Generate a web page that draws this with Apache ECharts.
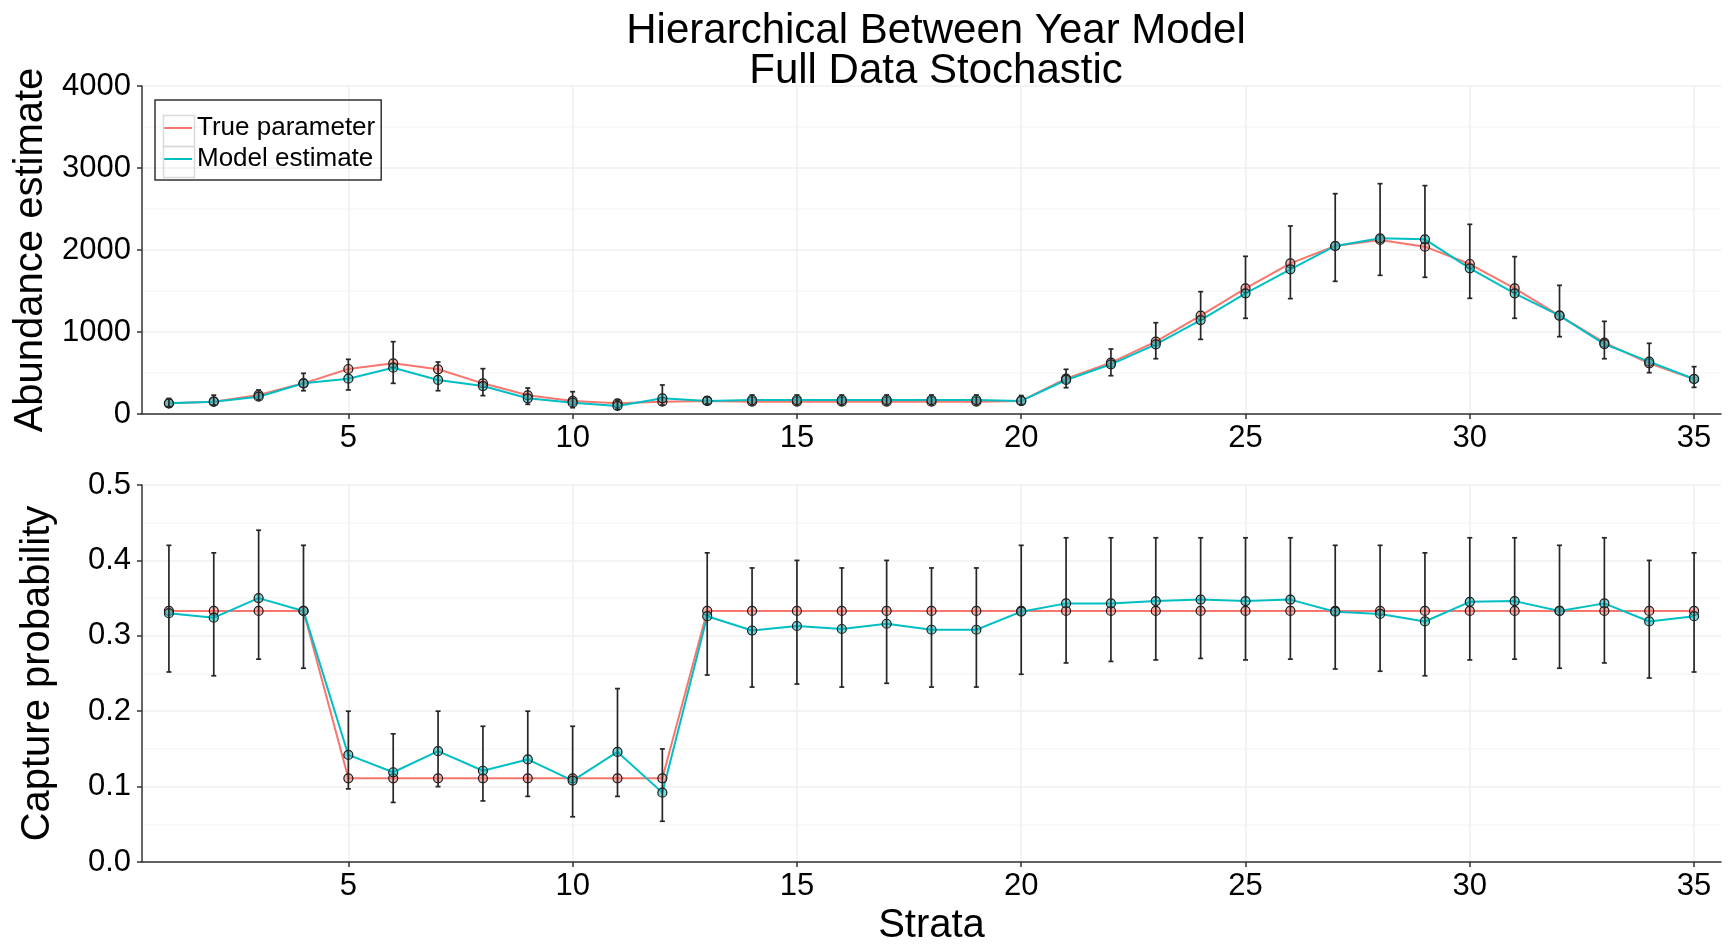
<!DOCTYPE html>
<html>
<head>
<meta charset="utf-8">
<title>Hierarchical Between Year Model</title>
<script src="https://cdn.jsdelivr.net/npm/echarts@6/dist/echarts.min.js"></script>
<style>
  html, body { margin: 0; padding: 0; background: #fff; }
  #chart { width: 1735px; height: 947px; }
</style>
</head>
<body>
<div id="chart"></div>
<script>
// strata 1..35
const strata = [1, 2, 3, 4, 5, 6, 7, 8, 9, 10, 11, 12, 13, 14, 15, 16, 17, 18,
  19, 20, 21, 22, 23, 24, 25, 26, 27, 28, 29, 30, 31, 32, 33, 34, 35];
const xTicks = [5, 10, 15, 20, 25, 30, 35];

// abundance panel
const abundTrue = [130, 150, 232, 374, 549, 618, 545, 374, 228, 159, 130, 150, 159, 150, 150, 150, 150, 150,
  150, 159, 431, 626, 882, 1199, 1533, 1837, 2049, 2122, 2041, 1829, 1533, 1199, 870, 618, 427];
const abundModel = [130, 150, 211, 374, 431, 565, 415, 341, 191, 138, 98, 191, 159, 171, 171, 171, 171, 171,
  171, 159, 415, 606, 850, 1146, 1472, 1764, 2049, 2142, 2130, 1777, 1472, 1199, 853, 638, 427];
const abundLo = [90, 110, 171, 284, 293, 374, 284, 224, 118, 77, 57, 110, 122, 110, 110, 110, 110, 110,
  110, 115, 321, 467, 674, 910, 1167, 1407, 1618, 1691, 1667, 1411, 1167, 943, 674, 504, 325];
const abundHi = [190, 230, 293, 496, 667, 882, 634, 553, 317, 272, 171, 354, 211, 232, 232, 232, 232, 232,
  232, 225, 545, 793, 1113, 1492, 1923, 2293, 2687, 2809, 2785, 2313, 1919, 1569, 1130, 862, 577];

// capture probability panel
const probTrue = [0.333, 0.333, 0.333, 0.333, 0.111, 0.111, 0.111, 0.111, 0.111, 0.111, 0.111, 0.111,
  0.333, 0.333, 0.333, 0.333, 0.333, 0.333, 0.333, 0.333, 0.333, 0.333, 0.333, 0.333, 0.333, 0.333,
  0.333, 0.333, 0.333, 0.333, 0.333, 0.333, 0.333, 0.333, 0.333];
const probModel = [0.330, 0.324, 0.350, 0.333, 0.142, 0.119, 0.147, 0.121, 0.136, 0.108, 0.146, 0.092,
  0.326, 0.307, 0.313, 0.309, 0.316, 0.308, 0.308, 0.332, 0.343, 0.343, 0.346, 0.348, 0.346, 0.348,
  0.332, 0.329, 0.319, 0.345, 0.346, 0.333, 0.343, 0.319, 0.326];
const probLo = [0.252, 0.247, 0.269, 0.257, 0.097, 0.079, 0.100, 0.081, 0.087, 0.060, 0.087, 0.054,
  0.248, 0.232, 0.236, 0.232, 0.237, 0.232, 0.232, 0.249, 0.264, 0.266, 0.268, 0.270, 0.268, 0.269,
  0.256, 0.253, 0.247, 0.268, 0.269, 0.257, 0.264, 0.244, 0.252];
const probHi = [0.42, 0.41, 0.44, 0.42, 0.20, 0.17, 0.20, 0.18, 0.20, 0.18, 0.23, 0.15,
  0.41, 0.39, 0.40, 0.39, 0.40, 0.39, 0.39, 0.42, 0.43, 0.43, 0.43, 0.43, 0.43, 0.43,
  0.42, 0.42, 0.41, 0.43, 0.43, 0.42, 0.43, 0.40, 0.41];

const FONT = "'Liberation Sans', Arial, sans-serif";
const RED = '#F8766D';
const CYAN = '#00BFC4';

const pairs = (ys) => strata.map((x, i) => [x, ys[i]]);
const bars = (lo, hi) => strata.map((x, i) => [x, lo[i], hi[i]]);

// error bar with small caps
function errorBar(params, api) {
  const x = api.value(0);
  const top = api.coord([x, api.value(2)]);
  const bot = api.coord([x, api.value(1)]);
  const w = 2.5;
  const st = { stroke: '#262626', lineWidth: 1.7 };
  return {
    type: 'group',
    children: [
      { type: 'line', shape: { x1: top[0], y1: top[1], x2: bot[0], y2: bot[1] }, style: st },
      { type: 'line', shape: { x1: top[0] - w, y1: top[1], x2: top[0] + w, y2: top[1] }, style: st },
      { type: 'line', shape: { x1: bot[0] - w, y1: bot[1], x2: bot[0] + w, y2: bot[1] }, style: st }
    ]
  };
}

function xAxisCfg(idx, withName) {
  return {
    type: 'value', gridIndex: idx, min: 0.4, max: 35.6,
    name: withName ? 'Strata' : '', nameLocation: 'middle', nameGap: 44,
    nameTextStyle: { fontFamily: FONT, fontSize: 40, color: '#000' },
    axisLine: { onZero: false, lineStyle: { color: '#333', width: 1.5 } },
    axisTick: { show: true, length: 5, customValues: xTicks, lineStyle: { color: '#333', width: 1.5 } },
    axisLabel: { customValues: xTicks, margin: 9, fontFamily: FONT, fontSize: 31, color: '#000' },
    splitLine: { show: true, lineStyle: { color: '#efefef', width: 1.5 } },
    minorTick: { show: false }
  };
}

function yAxisCfg(idx, name, max, interval, fmt) {
  return {
    type: 'value', gridIndex: idx, min: 0, max: max, interval: interval,
    name: name, nameLocation: 'middle', nameGap: 84,
    nameTextStyle: { fontFamily: FONT, fontSize: 40, color: '#000' },
    axisLine: { show: true, lineStyle: { color: '#333', width: 1.5 } },
    axisTick: { show: true, length: 5, lineStyle: { color: '#333', width: 1.5 } },
    axisLabel: { margin: 11, fontFamily: FONT, fontSize: 31, color: '#000', formatter: fmt },
    splitLine: { show: true, lineStyle: { color: '#efefef', width: 1.5 } },
    minorTick: { show: false, splitNumber: 2 },
    minorSplitLine: { show: true, lineStyle: { color: '#f7f7f7', width: 1.5 } }
  };
}

function lineSeries(name, data, color, fill, idx) {
  return {
    name: name, type: 'line', xAxisIndex: idx, yAxisIndex: idx, data: data,
    symbol: 'circle', symbolSize: 9, z: 3,
    lineStyle: { color: color, width: 2 },
    itemStyle: { color: fill, borderColor: '#1a1a1a', borderWidth: 1.2 },
    emphasis: { disabled: true },
    animation: false
  };
}

const chart = echarts.init(document.getElementById('chart'), null, { renderer: 'canvas' });

const option = {
  backgroundColor: '#fff',
  animation: false,
  title: {
    text: 'Hierarchical Between Year Model\nFull Data Stochastic',
    left: 931, top: 6, textAlign: 'center',
    textStyle: { fontFamily: FONT, fontSize: 42, fontWeight: 'normal', color: '#000', lineHeight: 40 }
  },
  legend: {
    orient: 'vertical', left: 155, top: 100,
    padding: [13, 6, 6, 9], itemGap: 1,
    borderColor: '#333', borderWidth: 1.5,
    itemWidth: 28, itemHeight: 2, icon: 'rect',
    textStyle: { fontFamily: FONT, fontSize: 26, color: '#000', lineHeight: 30 },
    data: [
      { name: 'True parameter', itemStyle: { color: RED, borderWidth: 0 } },
      { name: 'Model estimate', itemStyle: { color: CYAN, borderWidth: 0 } }
    ]
  },
  graphic: [
    { type: 'rect', left: 161, top: 113, shape: { width: 31, height: 31 },
      style: { fill: 'none', stroke: '#d9d9d9', lineWidth: 1.5 }, z: 10 },
    { type: 'rect', left: 161, top: 144, shape: { width: 31, height: 31 },
      style: { fill: 'none', stroke: '#d9d9d9', lineWidth: 1.5 }, z: 10 }
  ],
  grid: [
    { left: 142, right: 14, top: 86, height: 328 },
    { left: 142, right: 14, top: 485, height: 381 }
  ],
  xAxis: [xAxisCfg(0, false), xAxisCfg(1, true)],
  yAxis: [
    yAxisCfg(0, 'Abundance estimate', 4000, 1000, (v) => String(v)),
    yAxisCfg(1, 'Capture probability', 0.5, 0.1, (v) => v.toFixed(1))
  ],
  series: [
    lineSeries('True parameter', pairs(abundTrue), RED, 'rgba(248,118,109,0.55)', 0),
    lineSeries('Model estimate', pairs(abundModel), CYAN, 'rgba(0,191,196,0.55)', 0),
    {
      type: 'custom', name: 'abundCI', xAxisIndex: 0, yAxisIndex: 0,
      data: bars(abundLo, abundHi), renderItem: errorBar, z: 4, silent: true
    },
    lineSeries('True parameter', pairs(probTrue), RED, 'rgba(248,118,109,0.55)', 1),
    lineSeries('Model estimate', pairs(probModel), CYAN, 'rgba(0,191,196,0.55)', 1),
    {
      type: 'custom', name: 'probCI', xAxisIndex: 1, yAxisIndex: 1,
      data: bars(probLo, probHi), renderItem: errorBar, z: 4, silent: true
    }
  ]
};

chart.setOption(option);
</script>
</body>
</html>
